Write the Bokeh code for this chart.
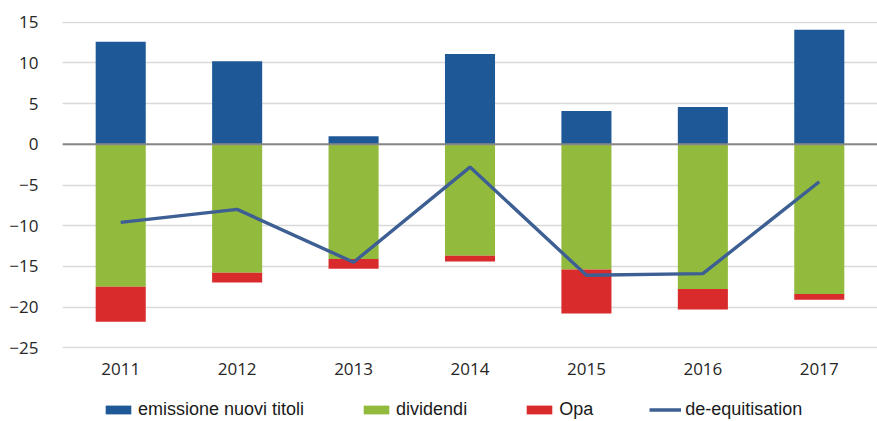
from bokeh.plotting import figure
from bokeh.layouts import column
from bokeh.models import ColumnDataSource, FactorRange, Range1d, FixedTicker, Legend, LegendItem, Span
from bokeh.embed import file_html
from bokeh.resources import INLINE

years = ["2011", "2012", "2013", "2014", "2015", "2016", "2017"]
emissione = [12.6, 10.2, 1.0, 11.1, 4.1, 4.6, 14.1]
dividendi = [-17.5, -15.8, -14.1, -13.7, -15.4, -17.8, -18.4]
opa = [-4.3, -1.2, -1.2, -0.7, -5.4, -2.5, -0.7]
de_equitisation = [-9.6, -8.0, -14.5, -2.8, -16.1, -15.9, -4.6]
y_ticks = [-25, -20, -15, -10, -5, 0, 5, 10, 15]
series_names = ["emissione nuovi titoli", "dividendi", "Opa", "de-equitisation"]

C_EM, C_DIV, C_OPA, C_LINE = "#1f5897", "#92bb3d", "#d92b2c", "#3d5f94"

zeros = [0] * len(years)
opa_top = dividendi
opa_bottom = [d + o for d, o in zip(dividendi, opa)]

src = ColumnDataSource(dict(x=years, em=emissione, div=dividendi, zero=zeros,
                            opa_top=opa_top, opa_bottom=opa_bottom, line=de_equitisation))

xr = FactorRange(*years, range_padding=0)
p = figure(x_range=xr, y_range=Range1d(-25.1, 15.1),
           width=877, height=385, output_backend="svg", toolbar_location=None,
           min_border_left=62, min_border_right=0, min_border_top=21, min_border_bottom=37)
p.outline_line_color = None
p.background_fill_color = "white"
p.border_fill_color = "white"

bw = 0.43


def draw_series(fig):
    a = fig.vbar(x="x", top="em", bottom="zero", width=bw, source=src, fill_color=C_EM, line_color=None)
    b = fig.vbar(x="x", top="zero", bottom="div", width=bw, source=src, fill_color=C_DIV, line_color=None)
    c = fig.vbar(x="x", top="opa_top", bottom="opa_bottom", width=bw, source=src, fill_color=C_OPA, line_color=None)
    return a, b, c


draw_series(p)
zero_line = Span(location=0, dimension="width", line_color="#878787", line_width=2)
p.add_layout(zero_line)
p.line(x="x", y="line", source=src, line_color=C_LINE, line_width=3.4)

p.yaxis.ticker = FixedTicker(ticks=y_ticks)
p.ygrid.ticker = FixedTicker(ticks=y_ticks)
p.ygrid.grid_line_color = "#d9d9d9"
p.ygrid.grid_line_width = 1.6
p.xgrid.grid_line_color = None

for ax in (p.xaxis[0], p.yaxis[0]):
    ax.axis_line_color = None
    ax.major_tick_line_color = None
    ax.minor_tick_line_color = None
    ax.major_label_text_font = "Open Sans"
    ax.major_label_text_font_size = "17px"
    ax.major_label_text_color = "#262626"
p.yaxis.major_label_standoff = 18
p.xaxis.major_label_standoff = 8

# legend strip: same series drawn out of view (y range far above data), only the legend shows
lg = figure(width=877, height=36, output_backend="svg", toolbar_location=None,
            x_range=xr, y_range=Range1d(1000, 1001),
            min_border_left=62, min_border_right=0, min_border_top=0, min_border_bottom=0)
lg.axis.visible = False
lg.grid.visible = False
lg.outline_line_color = None
lg.background_fill_color = "white"
g1, g2, g3 = draw_series(lg)
g4 = lg.line(x="x", y="line", source=src, line_color=C_LINE, line_width=3.4)

legend = Legend(items=[LegendItem(label=n, renderers=[r]) for n, r in zip(series_names, [g1, g2, g3, g4])],
                orientation="horizontal", location=(40, 1))
legend.glyph_width = 32
legend.glyph_height = 11
legend.label_height = 20
legend.label_standoff = 4
legend.spacing = 56
legend.padding = 0
legend.margin = 0
legend.label_text_font = "Liberation Sans"
legend.label_text_font_size = "18px"
legend.label_text_color = "#1a1a1a"
legend.border_line_color = None
legend.background_fill_alpha = 0
lg.add_layout(legend, "center")

layout = column(p, lg, spacing=0)
open("out.html", "w").write(file_html(layout, INLINE))
